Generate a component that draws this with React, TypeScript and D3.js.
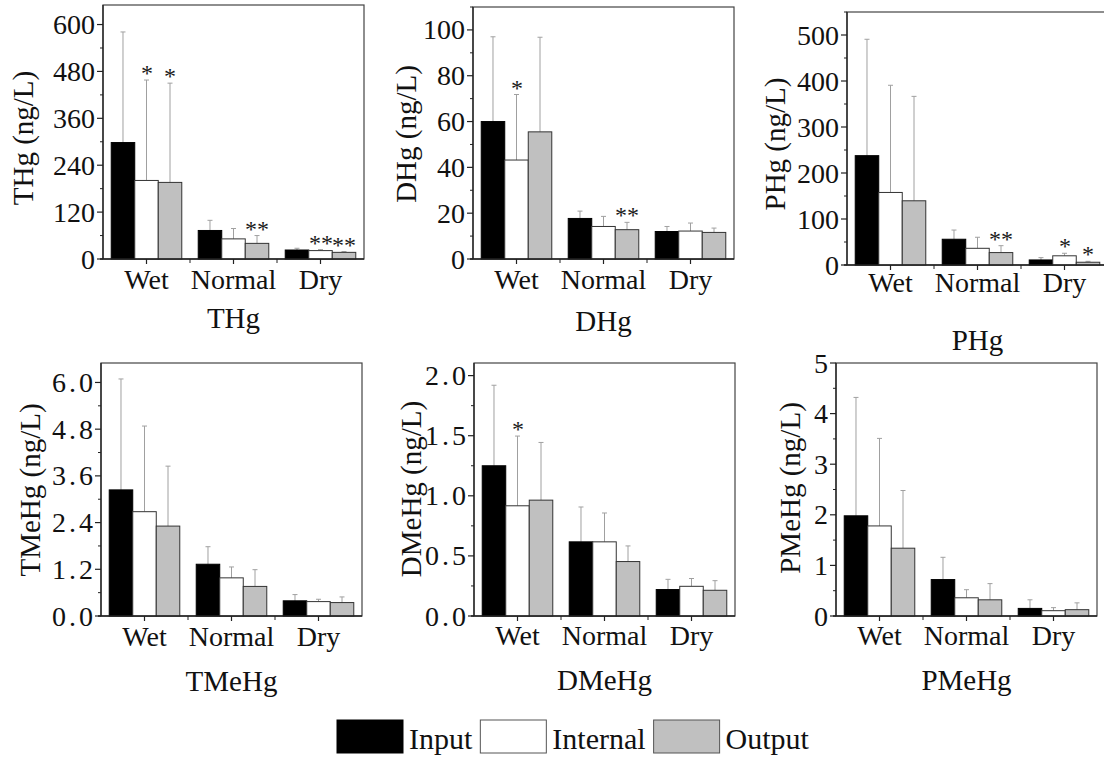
import { useEffect, useRef } from 'react';
import * as d3 from 'd3';

const categories = ['Wet', 'Normal', 'Dry'];
const series = ['Input', 'Internal', 'Output'];
const seriesFill = ['#000000', '#ffffff', '#c0c0c0'];

// means and SD (upper error) per series, in category order
const thgMeans = [[298, 73, 23], [201, 51.5, 21.5], [196, 40, 17]];
const thgErrs = [[283, 26, 4.5], [257, 26.5, 2.5], [254, 20, 2]];
const thgStars = [['', '', ''], ['*', '', '**'], ['*', '**', '**']];
const thgTicks = [0, 120, 240, 360, 480, 600];

const dhgMeans = [[60, 17.7, 12], [43.2, 14.2, 12.2], [55.5, 12.8, 11.6]];
const dhgErrs = [[37, 3.2, 2.2], [28.6, 4.4, 3.5], [41.3, 3.2, 1.9]];
const dhgStars = [['', '', ''], ['*', '', ''], ['', '**', '']];
const dhgTicks = [0, 20, 40, 60, 80, 100];

const phgMeans = [[237.7, 56, 11], [157.7, 36.3, 20], [139.6, 27, 6]];
const phgErrs = [[253, 20, 5], [233, 24, 5.5], [227, 15, 2]];
const phgStars = [['', '', ''], ['', '', '*'], ['', '**', '*']];
const phgTicks = [0, 100, 200, 300, 400, 500];

const tmehgMeans = [[3.24, 1.33, 0.39], [2.68, 0.98, 0.37], [2.31, 0.76, 0.345]];
const tmehgErrs = [[2.85, 0.45, 0.16], [2.2, 0.28, 0.06], [1.54, 0.43, 0.145]];
const tmehgStars = [['', '', ''], ['', '', ''], ['', '', '']];
const tmehgTicks = [0, 1.2, 2.4, 3.6, 4.8, 6.0];

const dmehgMeans = [[1.25, 0.617, 0.22], [0.917, 0.617, 0.247], [0.964, 0.453, 0.214]];
const dmehgErrs = [[0.67, 0.29, 0.085], [0.58, 0.24, 0.065], [0.48, 0.13, 0.08]];
const dmehgStars = [['', '', ''], ['*', '', ''], ['', '', '']];
const dmehgTicks = [0, 0.5, 1.0, 1.5, 2.0];

const pmehgMeans = [[1.98, 0.72, 0.15], [1.78, 0.36, 0.105], [1.34, 0.32, 0.125]];
const pmehgErrs = [[2.34, 0.44, 0.17], [1.73, 0.16, 0.06], [1.14, 0.32, 0.135]];
const pmehgStars = [['', '', ''], ['', '', ''], ['', '', '']];
const pmehgTicks = [0, 1, 2, 3, 4, 5];

const FONT = 'Liberation Serif, DejaVu Serif, serif';
const PANEL_W = 261;

interface Panel {
  title: string;
  yLabel: string;
  means: number[][];
  errs: number[][];
  stars: string[][];
  ticks: number[];
  yMax: number;
  fmt: string;
  x0: number;
  y0: number;
  y1: number;
  labelX: number;
  labelY: number;
  catY: number;
  titleY: number;
}

const panels: Panel[] = [
  { title: 'THg', yLabel: 'THg (ng/L)', means: thgMeans, errs: thgErrs, stars: thgStars, ticks: thgTicks, yMax: 650, fmt: 'd',
    x0: 103, y0: 5, y1: 259, labelX: 33, labelY: 138, catY: 289, titleY: 328 },
  { title: 'DHg', yLabel: 'DHg (ng/L)', means: dhgMeans, errs: dhgErrs, stars: dhgStars, ticks: dhgTicks, yMax: 110, fmt: 'd',
    x0: 473, y0: 7, y1: 259, labelX: 416, labelY: 134, catY: 289, titleY: 331 },
  { title: 'PHg', yLabel: 'PHg (ng/L)', means: phgMeans, errs: phgErrs, stars: phgStars, ticks: phgTicks, yMax: 550, fmt: 'd',
    x0: 847, y0: 12, y1: 265, labelX: 785, labelY: 144, catY: 292, titleY: 350 },
  { title: 'TMeHg', yLabel: 'TMeHg (ng/L)', means: tmehgMeans, errs: tmehgErrs, stars: tmehgStars, ticks: tmehgTicks, yMax: 6.5, fmt: '.1f',
    x0: 101, y0: 363, y1: 616, labelX: 40, labelY: 490, catY: 646, titleY: 691 },
  { title: 'DMeHg', yLabel: 'DMeHg (ng/L)', means: dmehgMeans, errs: dmehgErrs, stars: dmehgStars, ticks: dmehgTicks, yMax: 2.105, fmt: '.1f',
    x0: 474, y0: 363, y1: 616, labelX: 421, labelY: 489, catY: 645, titleY: 690 },
  { title: 'PMeHg', yLabel: 'PMeHg (ng/L)', means: pmehgMeans, errs: pmehgErrs, stars: pmehgStars, ticks: pmehgTicks, yMax: 5, fmt: 'd',
    x0: 836, y0: 363, y1: 616, labelX: 800, labelY: 488, catY: 645, titleY: 690 },
];

function drawPanel(svg: d3.Selection<SVGSVGElement, unknown, null, undefined>, p: Panel) {
  const g = svg.append('g');
  const x = d3.scaleBand<string>().domain(categories).range([p.x0, p.x0 + PANEL_W]).padding(0);
  const xs = d3.scaleBand<string>().domain(series).range([0, x.bandwidth()]).paddingInner(0).paddingOuter(0.35);
  const y = d3.scaleLinear().domain([0, p.yMax]).range([p.y1, p.y0]);
  const fmt = d3.format(p.fmt);

  // frame
  g.append('rect')
    .attr('x', p.x0).attr('y', p.y0)
    .attr('width', PANEL_W).attr('height', p.y1 - p.y0)
    .attr('fill', 'none').attr('stroke', '#444').attr('stroke-width', 1.2);

  // error bars (upper only) + significance stars
  series.forEach((s, si) => {
    categories.forEach((c, ci) => {
      const cx = (x(c) ?? 0) + (xs(s) ?? 0) + xs.bandwidth() / 2;
      const top = y(p.means[si][ci] + p.errs[si][ci]);
      g.append('line').attr('x1', cx).attr('x2', cx)
        .attr('y1', y(p.means[si][ci])).attr('y2', top)
        .attr('stroke', '#a0a0a0').attr('stroke-width', 1);
      g.append('line').attr('x1', cx - 2.5).attr('x2', cx + 2.5)
        .attr('y1', top).attr('y2', top)
        .attr('stroke', '#a0a0a0').attr('stroke-width', 1);
      const star = p.stars[si][ci];
      if (star) {
        g.append('text').attr('x', Math.round(cx)).attr('y', Math.round(top + 1))
          .attr('text-anchor', 'middle')
          .attr('font-family', FONT).attr('font-size', 24)
          .attr('fill', '#1a1a1a')
          .text(star);
      }
    });
  });

  // bars
  series.forEach((s, si) => {
    g.selectAll(null)
      .data(categories)
      .join('rect')
      .attr('x', (c) => (x(c) ?? 0) + (xs(s) ?? 0))
      .attr('y', (_c, ci) => y(p.means[si][ci]))
      .attr('width', xs.bandwidth())
      .attr('height', (_c, ci) => p.y1 - y(p.means[si][ci]))
      .attr('fill', seriesFill[si])
      .attr('stroke', si === 0 ? '#000' : '#333')
      .attr('stroke-width', 1);
  });

  // y axis, majors + one minor between
  const step = p.ticks[1] - p.ticks[0];
  const minors: number[] = [];
  p.ticks.forEach((t) => {
    const m = t + step / 2;
    if (m <= p.yMax + 1e-9) minors.push(m);
  });
  g.append('line').attr('x1', p.x0).attr('x2', p.x0).attr('y1', p.y0).attr('y2', p.y1)
    .attr('stroke', '#222').attr('stroke-width', 1.3);
  p.ticks.forEach((t) => {
    g.append('line').attr('x1', p.x0 - 6).attr('x2', p.x0).attr('y1', y(t)).attr('y2', y(t))
      .attr('stroke', '#222').attr('stroke-width', 1.2);
    const decimal = p.fmt !== 'd';
    const ls = decimal ? 3 : 0;
    g.append('text')
      .attr('x', p.x0 - 8 + ls)
      .attr('y', y(t))
      .attr('dy', '0.34em')
      .attr('text-anchor', 'end')
      .attr('font-family', FONT).attr('font-size', 28)
      .attr('letter-spacing', ls)
      .attr('fill', '#111')
      .text(fmt(t));
  });
  minors.forEach((t) => {
    g.append('line').attr('x1', p.x0 - 3).attr('x2', p.x0).attr('y1', y(t)).attr('y2', y(t))
      .attr('stroke', '#222').attr('stroke-width', 1);
  });

  // x axis
  g.append('line').attr('x1', p.x0 - 3).attr('x2', p.x0 + PANEL_W).attr('y1', p.y1).attr('y2', p.y1)
    .attr('stroke', '#222').attr('stroke-width', 1.3);
  categories.forEach((c, ci) => {
    const cx = (x(c) ?? 0) + x.bandwidth() / 2;
    g.append('line').attr('x1', cx).attr('x2', cx).attr('y1', p.y1).attr('y2', p.y1 + 5)
      .attr('stroke', '#222').attr('stroke-width', 1.2);
    if (ci > 0) {
      const bx = x(c) ?? 0;
      g.append('line').attr('x1', bx).attr('x2', bx).attr('y1', p.y1).attr('y2', p.y1 + 4)
        .attr('stroke', '#222').attr('stroke-width', 1);
    }
    g.append('text')
      .attr('x', cx).attr('y', p.catY)
      .attr('text-anchor', 'middle')
      .attr('font-family', FONT).attr('font-size', 28)
      .attr('fill', '#111')
      .text(c);
  });

  // panel title under the axis
  g.append('text')
    .attr('x', p.x0 + PANEL_W / 2).attr('y', p.titleY)
    .attr('text-anchor', 'middle')
    .attr('font-family', FONT).attr('font-size', 29)
    .attr('fill', '#111')
    .text(p.title);

  g.append('text')
    .attr('transform', `translate(${p.labelX},${p.labelY}) rotate(-90)`)
    .attr('text-anchor', 'middle')
    .attr('font-family', FONT).attr('font-size', 29)
    .attr('fill', '#111')
    .text(p.yLabel);
}

export default function App() {
  const svgRef = useRef<SVGSVGElement>(null);

  useEffect(() => {
    if (!svgRef.current) return;
    const svg = d3.select(svgRef.current);
    svg.selectAll('*').remove();

    panels.forEach((p) => drawPanel(svg, p));

    // legend
    const legend = svg.append('g');
    let lx = 337;
    series.forEach((s, si) => {
      legend.append('rect')
        .attr('x', lx).attr('y', 720)
        .attr('width', 66).attr('height', 33)
        .attr('fill', seriesFill[si])
        .attr('stroke', si === 0 ? '#000' : '#555')
        .attr('stroke-width', 1);
      const t = legend.append('text')
        .attr('x', lx + 72).attr('y', 749)
        .attr('font-family', FONT).attr('font-size', 30)
        .attr('fill', '#111')
        .text(s);
      const w = (t.node() as SVGTextElement).getComputedTextLength();
      lx = lx + 72 + w + 8;
    });
  }, []);

  return (
    <svg
      ref={svgRef}
      width={1104}
      height={758}
      style={{ position: 'absolute', left: 0, top: 0, background: '#fff' }}
    />
  );
}
